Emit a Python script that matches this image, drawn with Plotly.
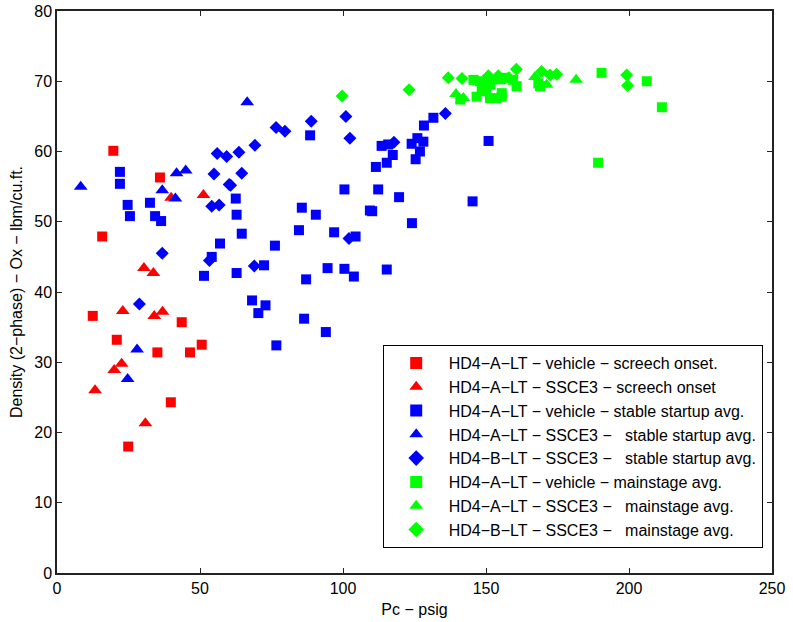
import plotly.graph_objects as go

# HD4-A-LT vehicle - screech onset (red squares)
red_sq_x = [19.7, 36.0, 15.8, 12.5, 20.9, 35.1, 43.6, 46.5, 50.6, 39.8, 24.9]
red_sq_y = [60.1, 56.3, 47.9, 36.6, 33.2, 31.4, 35.7, 31.4, 32.5, 24.3, 18.0]

# HD4-A-LT SSCE3 - screech onset (red triangles)
red_tri_x = [51.2, 39.9, 30.4, 33.7, 23.0, 34.0, 36.9, 22.6, 20.0, 13.3, 30.9]
red_tri_y = [53.8, 53.4, 43.4, 42.7, 37.3, 36.6, 37.2, 29.8, 28.9, 26.0, 21.3]

# HD4-A-LT vehicle - stable startup avg. (blue squares)
blue_sq_x = [22.0, 22.0, 24.7, 25.5, 32.5, 34.3, 36.4, 57.0, 54.1, 51.4,
             88.5, 100.5, 62.5, 62.8, 85.6, 90.5, 109.4, 64.6, 84.6, 96.9,
             104.4, 76.2, 72.4, 62.8, 94.6, 100.5, 87.1, 103.8, 115.3, 68.2,
             72.9, 70.4, 86.4, 94.0, 76.7, 131.6, 128.3, 126.0, 128.1, 124.0,
             113.5, 115.8, 117.4, 115.3, 126.9, 125.4, 111.5, 150.9, 112.3, 119.6,
             110.2, 145.3, 124.1]
blue_sq_y = [57.1, 55.4, 52.4, 50.8, 52.7, 50.8, 50.1, 46.9, 45.0, 42.3,
             62.3, 54.6, 53.3, 51.0, 52.0, 51.0, 51.6, 48.3, 48.8, 48.5,
             47.9, 46.6, 43.8, 42.7, 43.4, 43.3, 41.8, 42.2, 43.2, 38.8,
             38.1, 37.0, 36.2, 34.3, 32.4, 64.8, 63.7, 61.9, 61.4, 61.1,
             60.8, 61.0, 59.5, 58.4, 60.0, 58.9, 57.8, 61.5, 54.6, 53.5,
             51.5, 52.9, 49.8]

# HD4-A-LT SSCE3 - stable startup avg. (blue triangles)
blue_tri_x = [8.3, 41.8, 45.0, 36.8, 41.4, 66.5, 28.0, 24.7]
blue_tri_y = [55.0, 56.9, 57.3, 54.5, 53.3, 67.0, 31.8, 27.6]

# HD4-B-LT SSCE3 - stable startup avg. (blue diamonds)
blue_dia_x = [56.0, 59.3, 54.9, 60.2, 54.1, 56.7, 36.8, 53.3, 28.8, 63.6,
              69.2, 76.6, 79.7, 88.9, 101.0, 102.4, 64.6, 60.7, 102.1, 69.0,
              117.8, 135.8]
blue_dia_y = [59.7, 59.3, 56.8, 55.3, 52.2, 52.4, 45.5, 44.5, 38.3, 59.9,
              60.9, 63.4, 62.9, 64.3, 65.0, 61.9, 56.9, 55.2, 47.6, 43.7,
              61.3, 65.4]

# HD4-A-LT vehicle - mainstage avg. (green squares)
green_sq_x = [141.0, 145.6, 147.9, 146.7, 151.4, 151.4, 153.7, 155.5, 155.5, 159.5,
              160.7, 150.0, 157.0, 168.9, 168.3, 190.4, 206.2, 189.2, 211.5, 148.5,
              153.0]
green_sq_y = [67.4, 70.2, 70.0, 67.8, 69.5, 67.6, 67.6, 68.3, 67.8, 70.2,
              69.3, 68.8, 70.5, 69.3, 69.7, 71.2, 70.0, 58.4, 66.3, 69.0,
              70.3]

# HD4-A-LT SSCE3 - mainstage avg. (green triangles)
green_tri_x = [139.5, 142.1, 167.1, 171.2, 181.5, 155.0, 150.0]
green_tri_y = [68.2, 67.6, 70.6, 69.5, 70.2, 70.0, 68.3]

# HD4-B-LT SSCE3 - mainstage avg. (green diamonds)
green_dia_x = [99.7, 123.1, 136.8, 141.6, 150.8, 154.3, 160.6, 169.4, 172.4, 174.7,
               199.2, 199.5, 158.0]
green_dia_y = [67.9, 68.8, 70.5, 70.4, 70.8, 70.8, 71.7, 71.4, 70.9, 71.0,
               70.9, 69.4, 70.5]

sp = "\u00a0"
series = [
    (red_sq_x, red_sq_y, "red", "square", 10, "HD4−A−LT − vehicle − screech onset."),
    (red_tri_x, red_tri_y, "red", "triangle-up", 12, "HD4−A−LT − SSCE3 − screech onset"),
    (blue_sq_x, blue_sq_y, "blue", "square", 10, "HD4−A−LT − vehicle − stable startup avg."),
    (blue_tri_x, blue_tri_y, "blue", "triangle-up", 12, "HD4−A−LT − SSCE3 −" + sp * 3 + "stable startup avg."),
    (blue_dia_x, blue_dia_y, "blue", "diamond", 10, "HD4−B−LT − SSCE3 −" + sp * 3 + "stable startup avg."),
    (green_sq_x, green_sq_y, "#00ff00", "square", 10, "HD4−A−LT − vehicle − mainstage avg."),
    (green_tri_x, green_tri_y, "#00ff00", "triangle-up", 12, "HD4−A−LT − SSCE3 −" + sp * 3 + "mainstage avg."),
    (green_dia_x, green_dia_y, "#00ff00", "diamond", 10, "HD4−B−LT − SSCE3 −" + sp * 3 + "mainstage avg."),
]

fig = go.Figure()
for xs, ys, col, sym, sz, name in series:
    fig.add_trace(go.Scatter(
        x=xs, y=ys, mode="markers", name=name,
        marker=dict(color=col, symbol=sym, size=sz, line=dict(width=0)),
    ))

axis_style = dict(
    showgrid=False, zeroline=False, showline=True, linecolor="#222", linewidth=1.5,
    mirror="ticks", ticks="inside", ticklen=5, tickcolor="#222", automargin=False,
    ticklabeloverflow="allow", tickfont=dict(size=16, color="black"),
)

fig.update_layout(
    width=793, height=622,
    margin=dict(l=57, r=21, t=11, b=49),
    paper_bgcolor="white", plot_bgcolor="white",
    font=dict(family="Liberation Sans, Arial, sans-serif", size=16, color="black"),
    xaxis=dict(range=[0, 250], dtick=50,
               title=dict(text="Pc − psig", font=dict(size=16), standoff=8), **axis_style),
    yaxis=dict(range=[0, 80], dtick=10,
               title=dict(text="Density (2−phase) − Ox − lbm/cu.ft.", font=dict(size=16), standoff=8),
               **axis_style),
    legend=dict(
        x=0.987, y=0.0445, xanchor="right", yanchor="bottom",
        bordercolor="black", borderwidth=1, bgcolor="white",
        font=dict(size=16), itemsizing="constant", itemwidth=55,
    ),
    showlegend=True,
)

# drop the default page margin so the figure fills the window from its corner
fig.write_html("out.html", config={"displayModeBar": False},
               post_script="document.body.style.margin='0';")
